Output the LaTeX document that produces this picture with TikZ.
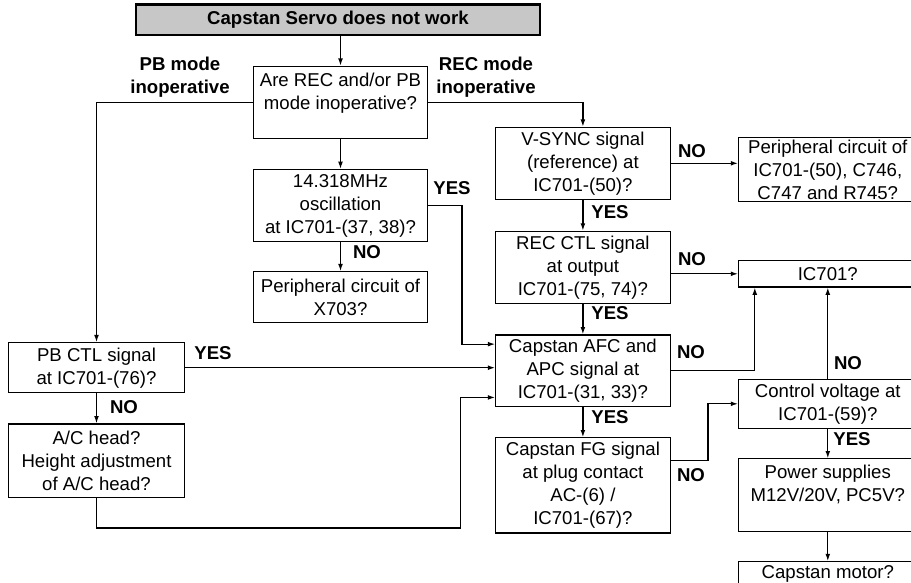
\documentclass[tikz,border=0pt]{standalone}
\usepackage{fontspec}
\setmainfont{Liberation Sans}
\usepackage{xcolor}
\usepackage{tikz}
\usetikzlibrary{arrows.meta, positioning}

\definecolor{cinzatopo}{gray}{0.78}

\begin{document}
\begin{tikzpicture}[
        x=1pt, y=1pt, node distance=15pt,
        every node/.style={align=center, font=\fontsize{9.3}{11.5}\selectfont},
        caixa/.style={draw, line width=0.6pt, inner sep=0pt, minimum width=87.2pt},
        lateral/.style={caixa, minimum width=89.2pt},
        topo/.style={draw, line width=1.2pt, fill=cinzatopo, inner sep=0pt, minimum width=202pt, minimum height=15.3pt, font=\fontsize{9.3}{11.5}\selectfont\bfseries},
        resp/.style={inner sep=0pt, font=\fontsize{9.3}{11.5}\selectfont\bfseries},
        seta/.style={-{Latex[length=3.6pt,width=2.4pt]}, line width=0.6pt}
    ]
        \useasboundingbox (0,0) rectangle (455.5,-291.5);
        \clip (0,0) rectangle (455.5,-291.5);

        \node[topo] (topo) at (168.95,-10) {Capstan Servo does not work};
        \node[caixa, minimum height=36.2pt] (modo) at (170.25,-51.25) {Are REC and/or PB\\mode inoperative?\\\mbox{}};
        \node[caixa, minimum height=36pt, below=14.8pt of modo] (osc) {14.318MHz\\oscillation\\at IC701-(37, 38)?};
        \node[caixa, minimum height=25.35pt, below=14.5pt of osc] (x703) {Peripheral circuit of\\X703?};

        \node[caixa, minimum height=36pt] (vsync) at (291.45,-81.65) {V-SYNC signal\\(reference) at\\IC701-(50)?};
        \node[caixa, minimum height=36.15pt, below=15.35pt of vsync] (recctl) {REC CTL signal\\at output\\IC701-(75, 74)?};
        \node[caixa, minimum height=35.85pt, below=15.1pt of recctl] (afc) {Capstan AFC and\\APC signal at\\IC701-(31, 33)?};
        \node[caixa, minimum height=47.6pt, below=of afc] (fg) {Capstan FG signal\\at plug contact\\AC-(6) /\\IC701-(67)?};

        \node[caixa, minimum width=87.75pt, minimum height=25pt] (pbctl) at (48.25,-183.85) {PB CTL signal\\at IC701-(76)?};
        \node[caixa, minimum width=87.75pt, minimum height=36.7pt, below=of pbctl] (achead) {A/C head?\\Height adjustment\\of A/C head?};

        \node[lateral, minimum height=31.8pt] (per50) at (413.9,-84.75) {Peripheral circuit of\\IC701-(50), C746,\\C747 and R745?};
        \node[lateral, minimum height=13.15pt] (ic701) at (413.9,-136.9) {IC701?};
        \node[lateral, minimum height=24.65pt] (ctrl) at (413.9,-201.9) {Control voltage at\\IC701-(59)?};
        \node[lateral, minimum height=36.15pt, below=14.6pt of ctrl] (fonte) {Power supplies\\M12V/20V, PC5V?\\\mbox{}};
        \node[lateral, minimum height=12pt, below=14.65pt of fonte] (motor) {Capstan motor?};

        % respostas
        \node[resp] (pbmodo) at (90,-38.5) {PB mode\\inoperative};
        \node[resp] (recmodo) at (243,-38.5) {REC mode\\inoperative};
        \node[resp] (simosc) at (226,-93.85) {YES};
        \node[resp] (naoosc) at (183.5,-125.85) {NO};
        \node[resp] (naovsync) at (346,-75.35) {NO};
        \node[resp] (simvsync) at (305,-106.15) {YES};
        \node[resp] (naorec) at (346,-129.5) {NO};
        \node[resp] (simrec) at (305,-156.65) {YES};
        \node[resp] (simpb) at (106.5,-176.65) {YES};
        \node[resp] (naopb) at (62,-203.65) {NO};
        \node[resp] (naoafc) at (345.5,-175.85) {NO};
        \node[resp] (simafc) at (305,-208.35) {YES};
        \node[resp] (naofg) at (345.5,-237.5) {NO};
        \node[resp] (naoctrl) at (424,-181.65) {NO};
        \node[resp] (simctrl) at (426,-219.65) {YES};

        % ligacoes
        \draw[seta] (modo.north |- topo.south) -- (modo.north);
        \draw[seta] (modo.west) -| (pbctl.north);
        \draw[seta] (modo.east) -| (vsync.north);
        \draw[seta] (modo) -- (osc);
        \draw[seta] (osc) -- (x703);
        \draw[seta] (osc.east) -| ([xshift=-16.6pt,yshift=13.3pt]afc.west) -- ([yshift=13.3pt]afc.west);
        \draw[seta] (vsync) -- (recctl);
        \draw[seta] (vsync.east) -- (vsync.east -| per50.west);
        \draw[seta] (recctl) -- (afc);
        \draw[seta] (recctl.east |- ic701.west) -- (ic701.west);
        \draw[seta] (pbctl.east) -- (pbctl.east -| afc.west);
        \draw[seta] (pbctl) -- (achead);
        \draw[seta] (achead.south) -- ++(0,-15) -| ([xshift=-17.4pt,yshift=-13.35pt]afc.west) -- ([yshift=-13.35pt]afc.west);
        \draw[seta] (afc.east) -| ([xshift=8.4pt]ic701.south west);
        \draw[seta] (afc) -- (fg);
        \draw[seta] ([yshift=12.3pt]fg.east) -- ++(18.6,0) |- (ctrl.west);
        \draw[seta] (ctrl) -- (ic701);
        \draw[seta] (ctrl) -- (fonte);
        \draw[seta] (fonte) -- (motor);
\end{tikzpicture}
\end{document}
